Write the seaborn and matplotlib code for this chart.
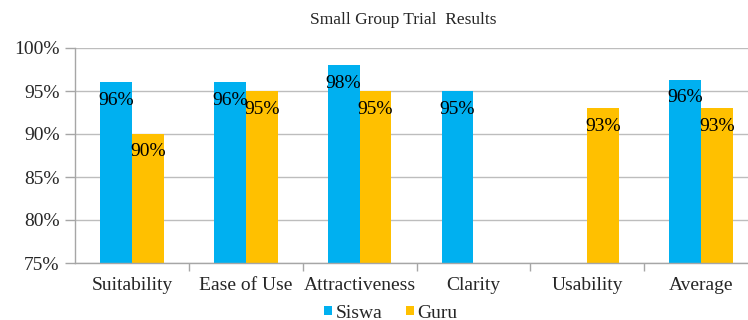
import numpy as np
import pandas as pd
import matplotlib
matplotlib.use("Agg")
import matplotlib.pyplot as plt
import seaborn as sns
from matplotlib.ticker import FuncFormatter, FixedLocator

categories = ["Suitability", "Ease of Use", "Attractiveness", "Clarity", "Usability", "Average"]
siswa = [96, 96, 98, 95, np.nan, 96.3]
guru = [90, 95, 95, np.nan, 93, 93]
series_names = ["Siswa", "Guru"]
colors = ["#00B0F0", "#FFC000"]
title = "Small Group Trial  Results"

df = pd.DataFrame({
    "Category": categories * 2,
    "Series": [series_names[0]] * len(categories) + [series_names[1]] * len(categories),
    "Value": siswa + guru,
})

sns.set_theme(style="white")
plt.rcParams["font.family"] = ["Liberation Serif", "DejaVu Serif"]

fig = plt.figure(figsize=(7.48, 3.2), dpi=100)
ax = fig.add_axes([75 / 748, 57 / 320, 683 / 748, 215 / 320])

sns.barplot(data=df, x="Category", y="Value", hue="Series", order=categories,
            hue_order=series_names, palette=colors, width=0.56, saturation=1,
            ax=ax, legend=True, edgecolor="none", linewidth=0)

ax.set_ylim(75, 100)
ax.set_yticks([75, 80, 85, 90, 95, 100])
ax.yaxis.set_major_formatter(FuncFormatter(lambda v, p: f"{v:.0f}%"))
ax.grid(axis="y", color="#BDBDBD", linewidth=1)
ax.set_axisbelow(True)
ax.set_xlim(-0.5, len(categories) - 0.5)
ax.set_xlabel("")
ax.set_ylabel("")

for s in ["top", "right"]:
    ax.spines[s].set_visible(False)
for s in ["left", "bottom"]:
    ax.spines[s].set_color("#A6A6A6")
    ax.spines[s].set_linewidth(1)

ax.tick_params(axis="y", which="major", length=7, width=1, color="#A6A6A6",
               labelsize=14, pad=4, left=True)
ax.tick_params(axis="x", which="major", length=0, labelsize=14, pad=10)
ax.xaxis.set_minor_locator(FixedLocator(np.arange(0.5, len(categories) - 1, 1.0)))
ax.tick_params(axis="x", which="minor", length=6, width=1, color="#A6A6A6", bottom=True)

for cont in ax.containers:
    for bar in cont:
        h = bar.get_height()
        if not np.isfinite(h) or h == 0:
            continue
        ax.annotate(f"{h:.0f}%", xy=(bar.get_x() + bar.get_width() / 2, h),
                    xytext=(0, -18), textcoords="offset pixels",
                    ha="center", va="center", fontsize=14, color="black")

ax.set_title(title, fontsize=12.5, pad=17, x=(403 - 75) / 683)

leg = ax.legend(loc="center", bbox_to_anchor=(391 / 748, 7 / 320),
                bbox_transform=fig.transFigure, ncol=2, frameon=False,
                fontsize=14, handlelength=0.4, handleheight=0.4,
                handletextpad=0.2, columnspacing=1.2, borderpad=0)

fig.savefig("out.png", dpi=100)
